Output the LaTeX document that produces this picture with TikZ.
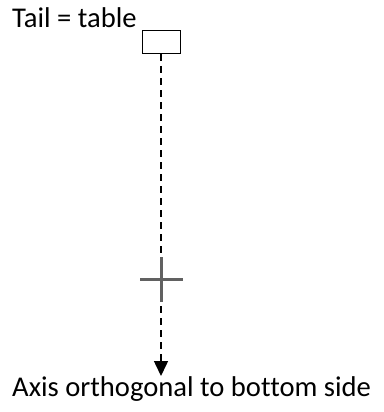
\documentclass[tikz,border=0pt]{standalone}
\usepackage{fontspec}
\setmainfont{Carlito}[Ligatures=NoCommon]
\usetikzlibrary{arrows.meta}

\begin{document}
\begin{tikzpicture}[x=1pt,y=-1pt,
    tailbox/.style={draw,line width=1pt,minimum width=38pt,minimum height=23pt,inner sep=0pt},
    axisline/.style={line width=1.5pt,dash pattern=on 7pt off 5pt,-{Triangle[width=14pt,length=15pt]}},
    lbl/.style={font=\fontsize{28.6}{32}\selectfont,inner sep=0pt,anchor=base west}]
  \useasboundingbox (0,0) rectangle (383,412);
  \node[tailbox] (tail) at (161,42) {};
  \coordinate (tip) at (161,376);
  \draw[axisline] (tail.south) -- (tip);
  % centre cross
  \draw[line width=3pt,color=black!62] (140,279) -- (183,279) (161,257) -- (161,302);
  \node[lbl] (taillbl) at (12,28) {Tail = table};
  \node[lbl] (axislbl) at (12,396) {Axis orthogonal to bottom side};
\end{tikzpicture}
\end{document}
